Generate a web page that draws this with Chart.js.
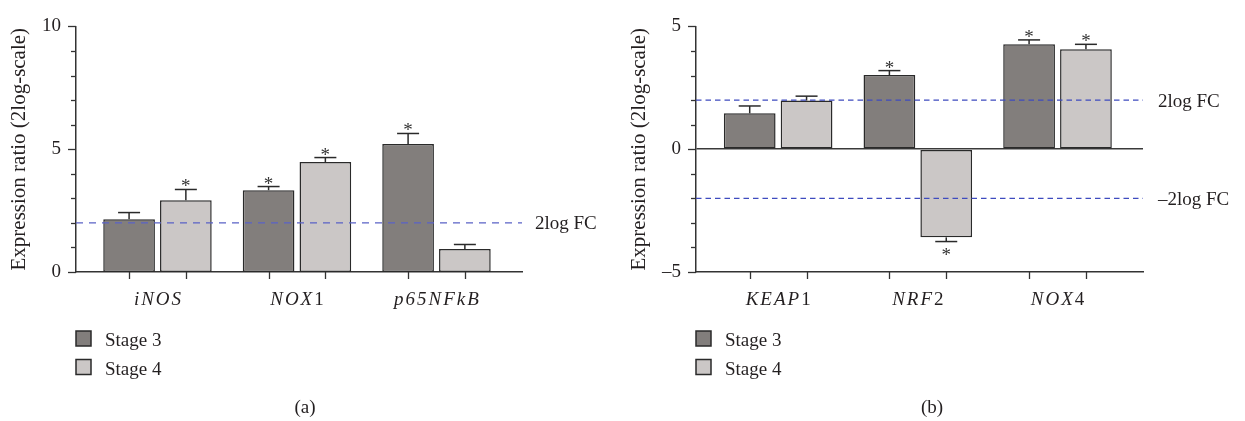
<!DOCTYPE html>
<html><head><meta charset="utf-8">
<script src="https://cdn.jsdelivr.net/npm/chart.js@4.4.1/dist/chart.umd.min.js"></script>
<style>
html,body{margin:0;padding:0;background:#fff;}
#wrap{position:relative;width:1245px;height:421px;overflow:hidden;background:#fff}
canvas{position:absolute;top:0}
</style></head><body>
<div id="wrap">
<canvas id="ca" width="620" height="421" style="left:0"></canvas>
<canvas id="cb" width="625" height="421" style="left:620px"></canvas>
</div>
<script>
// ---- data ----
const seriesNames = ['Stage 3', 'Stage 4'];

const genesA = ['iNOS', 'NOX1', 'p65NFkB'];
const stage3A = [2.15, 3.33, 5.21];
const stage4A = [2.92, 4.48, 0.94];
const err3A = [0.27, 0.15, 0.43];
const err4A = [0.44, 0.18, 0.18];
const sig3A = [false, true, true];
const sig4A = [true, true, false];
const majorTicksA = [0, 5, 10];
const thresholdsA = [2];
const thresholdLabelsA = ['2log FC'];

const genesB = ['KEAP1', 'NRF2', 'NOX4'];
const stage3B = [1.46, 3.02, 4.27];
const stage4B = [1.98, -3.59, 4.07];
const err3B = [0.30, 0.18, 0.18];
const err4B = [0.18, 0.17, 0.20];
const sig3B = [false, true, true];
const sig4B = [false, true, true];
const majorTicksB = [-5, 0, 5];
const thresholdsB = [2, -2];
const thresholdLabelsB = ['2log FC', '\u20132log FC'];

const yTitle = 'Expression ratio (2log-scale)';

// ---- style ----
const FONT = "'Liberation Serif', 'Times New Roman', serif";
const TXT = '#231f20';
const DARK = '#827e7c';
const LIGHT = '#cbc7c6';
const EDGE = '#2a2a2a';

function fmtTick(v) { return v < 0 ? '\u2013' + Math.abs(v) : String(v); }

function makeChart(id, cfg) {
  const canvas = document.getElementById(id);
  const W = canvas.width, H = canvas.height;
  const AREA_L = 76, AREA_T = 16, AREA_B = 272;
  const values = [cfg.s3, cfg.s4];
  const errs = [cfg.e3, cfg.e4];
  const sigs = [cfg.g3, cfg.g4];

  const decor = {
    id: 'decor',
    afterDraw(chart) {
      const ctx = chart.ctx;
      const xs = chart.scales.x, ys = chart.scales.y;
      const ca = chart.chartArea;
      ctx.save();
      // y tick marks (major + minor)
      ctx.strokeStyle = '#333'; ctx.lineWidth = 1.3;
      for (let v = cfg.min; v <= cfg.max; v++) {
        const y = Math.round(ys.getPixelForValue(v)) + 0.5;
        const len = (v % 5 === 0) ? 8 : 5;
        ctx.beginPath(); ctx.moveTo(ca.left - len, y); ctx.lineTo(ca.left, y); ctx.stroke();
      }
      // x tick marks under each bar
      for (let d = 0; d < 2; d++) {
        chart.getDatasetMeta(d).data.forEach(el => {
          const x = Math.round(el.x) + 0.5;
          ctx.beginPath(); ctx.moveTo(x, ca.bottom); ctx.lineTo(x, ca.bottom + 7); ctx.stroke();
        });
      }
      // error bars + asterisks
      ctx.strokeStyle = EDGE; ctx.lineWidth = 1.5;
      ctx.font = '19px ' + FONT;
      const am = ctx.measureText('*');
      for (let d = 0; d < 2; d++) {
        chart.getDatasetMeta(d).data.forEach((el, i) => {
          const v = values[d][i], e = errs[d][i];
          const s = v >= 0 ? 1 : -1;
          const yEnd = ys.getPixelForValue(v + s * e);
          ctx.beginPath(); ctx.moveTo(el.x, el.y); ctx.lineTo(el.x, yEnd); ctx.stroke();
          ctx.beginPath(); ctx.moveTo(el.x - 11, yEnd); ctx.lineTo(el.x + 11, yEnd); ctx.stroke();
          if (sigs[d][i]) {
            const cy = s > 0 ? yEnd - 6.5 : yEnd + 9.5;
            const base = cy + (am.actualBoundingBoxAscent - am.actualBoundingBoxDescent) / 2;
            ctx.fillStyle = '#333'; ctx.textAlign = 'center'; ctx.textBaseline = 'alphabetic';
            ctx.fillText('*', el.x, base);
          }
        });
      }
      // threshold dashed lines + labels
      ctx.strokeStyle = cfg.dashColor; ctx.lineWidth = 1.3; ctx.setLineDash(cfg.dash);
      cfg.thresholds.forEach((t, k) => {
        const y = ys.getPixelForValue(t);
        ctx.beginPath(); ctx.moveTo(ca.left, y); ctx.lineTo(ca.right, y); ctx.stroke();
        ctx.fillStyle = TXT; ctx.textAlign = 'left'; ctx.textBaseline = 'alphabetic';
        ctx.font = '19px ' + FONT;
        ctx.fillText(cfg.thresholdLabels[k], ca.right + cfg.labelGap, y + 6.5);
      });
      ctx.setLineDash([]);
      // category labels (italic letters, upright trailing digits)
      ctx.fillStyle = TXT; ctx.textBaseline = 'alphabetic'; ctx.textAlign = 'left';
      cfg.genes.forEach((g, i) => {
        const m = g.match(/^(.*?)(\d*)$/);
        const parts = [];
        for (const ch of m[1]) parts.push(['italic 19px ' + FONT, ch]);
        for (const ch of m[2]) parts.push(['19px ' + FONT, ch]);
        const sp = 2;
        let total = 0;
        parts.forEach(p => { ctx.font = p[0]; total += ctx.measureText(p[1]).width; });
        total += sp * (parts.length - 1);
        let x = xs.getPixelForValue(i) - total / 2;
        parts.forEach(p => { ctx.font = p[0]; ctx.fillText(p[1], x, 305); x += ctx.measureText(p[1]).width + sp; });
      });
      // legend
      ctx.font = '19px ' + FONT;
      [DARK, LIGHT].forEach((c, k) => {
        const top = k === 0 ? 331 : 359.5;
        ctx.fillStyle = c; ctx.fillRect(ca.left, top, 15, 15);
        ctx.strokeStyle = EDGE; ctx.lineWidth = 1.5; ctx.strokeRect(ca.left, top, 15, 15);
        ctx.fillStyle = TXT; ctx.textAlign = 'left';
        ctx.fillText(seriesNames[k], ca.left + 29, top + 15);
      });
      // panel caption
      ctx.textAlign = 'center';
      ctx.fillText(cfg.caption, cfg.captionX, 413);
      ctx.restore();
    }
  };

  return new Chart(canvas, {
    type: 'bar',
    data: {
      datasets: [0, 1].map(d => ({
        label: seriesNames[d],
        data: values[d].map((v, i) => ({ x: i, y: v })),
        backgroundColor: d === 0 ? DARK : LIGHT,
        borderColor: EDGE,
        borderWidth: 1.5,
        borderSkipped: false,
        categoryPercentage: 0.814,
        barPercentage: 0.91
      }))
    },
    options: {
      responsive: false,
      animation: false,
      devicePixelRatio: 1,
      layout: { padding: { left: 0, top: AREA_T, right: W - (AREA_L + cfg.areaW), bottom: H - AREA_B } },
      plugins: { legend: { display: false }, tooltip: { enabled: false } },
      scales: {
        x: {
          type: 'linear', min: cfg.xmin, max: cfg.xmax, offset: false,
          afterBuildTicks: s => { s.ticks = cfg.genes.map((g, i) => ({ value: i })); },
          ticks: { display: false },
          grid: { display: false, offset: false },
          border: { display: true, color: '#333', width: 1.5 },
          afterFit: s => { s.height = 0; }
        },
        y: {
          type: 'linear', position: 'left', min: cfg.min, max: cfg.max,
          afterFit: s => { s.width = AREA_L; },
          ticks: {
            stepSize: 1, autoSkip: false, padding: 15, color: TXT,
            font: { family: FONT, size: 19 },
            callback: v => cfg.majors.includes(v) ? fmtTick(v) : ''
          },
          grid: {
            display: cfg.zeroLine, drawTicks: false, drawOnChartArea: true, lineWidth: 1.5,
            color: c => (c.tick && c.tick.value === 0) ? '#3a3a3a' : 'rgba(0,0,0,0)'
          },
          border: { display: true, color: '#333', width: 1.5 },
          title: {
            display: true, text: yTitle, color: TXT,
            font: { family: FONT, size: 21 },
            padding: { top: 7, bottom: 0 }
          }
        }
      }
    },
    plugins: [decor]
  });
}

makeChart('ca', {
  genes: genesA, s3: stage3A, s4: stage4A, e3: err3A, e4: err4A, g3: sig3A, g4: sig4A,
  min: 0, max: 10, majors: majorTicksA, thresholds: thresholdsA, thresholdLabels: thresholdLabelsA,
  xmin: -0.584, xmax: 2.613, areaW: 446, zeroLine: false,
  dash: [7, 6], dashColor: '#5a62c6', labelGap: 13, caption: '(a)', captionX: 305
});
makeChart('cb', {
  genes: genesB, s3: stage3B, s4: stage4B, e3: err3B, e4: err4B, g3: sig3B, g4: sig4B,
  min: -5, max: 5, majors: majorTicksB, thresholds: thresholdsB, thresholdLabels: thresholdLabelsB,
  xmin: -0.588, xmax: 2.612, areaW: 447, zeroLine: true,
  dash: [5.5, 4], dashColor: '#3e4bbf', labelGap: 15, caption: '(b)', captionX: 312
});
</script>
</body></html>
